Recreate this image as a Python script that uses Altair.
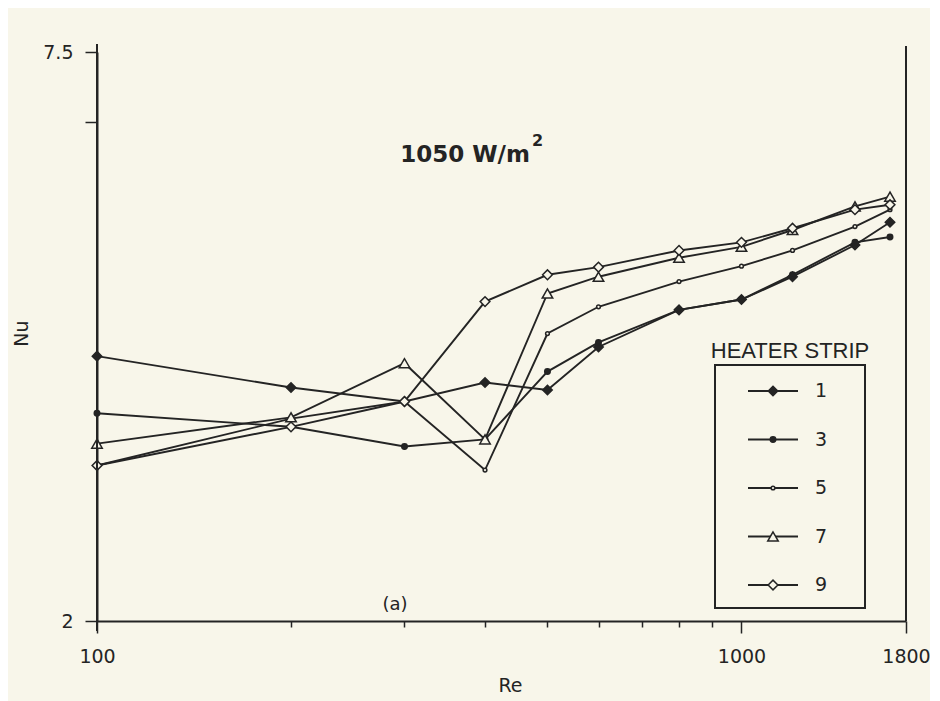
import altair as alt
import pandas as pd

# ---- data ----
re_vals = [100, 200, 300, 400, 500, 600, 800, 1000, 1200, 1500, 1700]
series = ["1", "3", "5", "7", "9"]
nu_1 = [3.70, 3.44, 3.33, 3.48, 3.42, 3.78, 4.12, 4.22, 4.45, 4.79, 5.05]
nu_3 = [3.24, 3.14, 3.00, 3.05, 3.57, 3.82, 4.12, 4.22, 4.47, 4.82, 4.88]
nu_5 = [2.87, 3.20, 3.33, 2.84, 3.90, 4.15, 4.40, 4.56, 4.73, 5.00, 5.20]
nu_7 = [3.02, 3.21, 3.64, 3.05, 4.28, 4.45, 4.65, 4.77, 4.96, 5.24, 5.36]
nu_9 = [2.87, 3.14, 3.33, 4.20, 4.47, 4.55, 4.73, 4.82, 4.98, 5.20, 5.26]

x_ticks = [100, 200, 300, 400, 500, 600, 700, 800, 900, 1000, 1800]
x_labels = [100, 1000, 1800]
y_ticks = [2, 6.37, 7.5]
y_labels = [2, 7.5]

BG = "#f8f6ea"
INK = "#242424"
FONT = "DejaVu Sans"
W, H = 809, 569

rows = []
for s, vals in zip(series, [nu_1, nu_3, nu_5, nu_7, nu_9]):
    for r, v in zip(re_vals, vals):
        rows.append({"series": s, "Re": r, "Nu": v})
df = pd.DataFrame(rows)
leg = pd.DataFrame({"series": series})
one = pd.DataFrame({"a": [0]})

shape_scale = alt.Scale(domain=series, range=["diamond", "circle", "circle", "triangle-up", "diamond"])
fill_scale = alt.Scale(domain=series, range=[INK, INK, BG, BG, BG])
size_scale = alt.Scale(type="ordinal", domain=series, range=[90, 30, 14, 110, 95])

xlab_test = " || ".join(f"datum.value == {v}" for v in x_labels)
ylab_test = " || ".join(f"datum.value == {v}" for v in y_labels)

x_scale = alt.Scale(type="log", domain=[100, 1800], nice=False)
y_scale = alt.Scale(type="log", domain=[2, 7.5], nice=False)

x_enc = alt.X(
    "Re:Q",
    scale=x_scale,
    axis=alt.Axis(
        values=x_ticks,
        labelExpr=f"({xlab_test}) ? datum.value : ''",
        tickSize={"condition": {"test": xlab_test, "value": 12}, "value": 6},
        labelFlush=False,
        title="Re",
        titleX=413, titleY=64, titleBaseline="middle", titleAlign="center",
        labelPadding=14,
    ),
)
y_enc = alt.Y(
    "Nu:Q",
    scale=y_scale,
    axis=alt.Axis(
        values=y_ticks,
        labelExpr=f"({ylab_test}) ? datum.value : ''",
        tickSize=12,
        labelPadding=12,
        labelFlush=False,
        title="Nu",
        titleX=-76, titleY=281, titleAngle=-90, titleBaseline="middle", titleAlign="center",
    ),
)

lines = alt.Chart(df).mark_line(color=INK, strokeWidth=1.9).encode(
    x=x_enc, y=y_enc, detail="series:N"
)
points = alt.Chart(df).mark_point(filled=False, stroke=INK, strokeWidth=1.5, opacity=1).encode(
    x=alt.X("Re:Q", scale=x_scale),
    y=alt.Y("Nu:Q", scale=y_scale, axis=None),
    shape=alt.Shape("series:N", scale=shape_scale, legend=None),
    fill=alt.Fill("series:N", scale=fill_scale, legend=None),
    size=alt.Size("series:N", scale=size_scale, legend=None),
)

border = alt.Chart(one).mark_rule(color=INK, strokeWidth=2).encode(
    x=alt.value(W), y=alt.value(-6), y2=alt.value(H)
)
left_ext = alt.Chart(one).mark_rule(color=INK, strokeWidth=2).encode(
    x=alt.value(0), y=alt.value(-8), y2=alt.value(H + 10)
)

label_main = alt.Chart(one).mark_text(
    text="1050 W/m", font=FONT, fontSize=23, fontWeight="bold", color=INK,
    align="center", baseline="middle",
).encode(x=alt.value(368), y=alt.value(103))
label_sup = alt.Chart(one).mark_text(
    text="2", font=FONT, fontSize=16, fontWeight="bold", color=INK,
    align="left", baseline="middle",
).encode(x=alt.value(435), y=alt.value(89))
label_a = alt.Chart(one).mark_text(
    text="(a)", font=FONT, fontSize=18, color=INK, align="center", baseline="middle",
).encode(x=alt.value(298), y=alt.value(553))

leg_box = alt.Chart(one).mark_rect(fill=BG, stroke=INK, strokeWidth=2).encode(
    x=alt.value(618), x2=alt.value(768), y=alt.value(313), y2=alt.value(556)
)
leg_title = alt.Chart(one).mark_text(
    text="HEATER STRIP", font="Liberation Sans", fontSize=22, color=INK,
    align="center", baseline="middle",
).encode(x=alt.value(693), y=alt.value(299))

leg_y = alt.Y("series:N", scale=alt.Scale(type="point", domain=series, range=[339, 533], padding=0), axis=None)
leg_rules = alt.Chart(leg).mark_rule(color=INK, strokeWidth=1.9).encode(
    y=leg_y, x=alt.value(651), x2=alt.value(701)
)
leg_points = alt.Chart(leg).mark_point(filled=False, stroke=INK, strokeWidth=1.5, opacity=1).encode(
    y=leg_y, x=alt.value(676),
    shape=alt.Shape("series:N", scale=shape_scale, legend=None),
    fill=alt.Fill("series:N", scale=fill_scale, legend=None),
    size=alt.Size("series:N", scale=size_scale, legend=None),
)
leg_text = alt.Chart(leg).mark_text(
    font=FONT, fontSize=19, color=INK, align="left", baseline="middle",
).encode(y=leg_y, x=alt.value(718), text="series:N")

chart = alt.layer(
    lines, points, border, left_ext, label_main, label_sup, label_a,
    leg_box, leg_title, leg_rules, leg_points, leg_text,
).resolve_scale(y="independent").properties(
    width=W, height=H,
    autosize=alt.AutoSizeParams(type="none"),
    padding={"left": 89, "top": 44, "right": 24, "bottom": 80},
    background=BG,
).configure_view(stroke=None).configure_axis(
    grid=False,
    domainColor=INK, domainWidth=2,
    tickColor=INK, tickWidth=1.5,
    labelFont=FONT, labelFontSize=19, labelColor=INK,
    titleFont=FONT, titleFontSize=19, titleFontWeight="normal", titleColor=INK,
)

chart.save("out.html", embed_options={"renderer": "svg", "actions": False})
